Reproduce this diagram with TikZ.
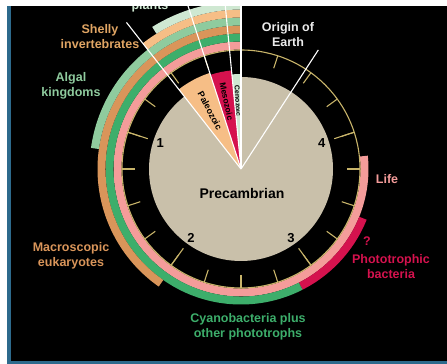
\documentclass[tikz,border=0pt]{standalone}
\usepackage{fontspec}
\setmainfont{Liberation Sans}
\definecolor{bgblue}{HTML}{2D6A8C}
\definecolor{discc}{HTML}{C9C0AA}
\definecolor{lifepink}{HTML}{F49C9A}
\definecolor{cyanog}{HTML}{3DAE6B}
\definecolor{macroc}{HTML}{D9955A}
\definecolor{algalc}{HTML}{8FCB9E}
\definecolor{shellyc}{HTML}{F6BE86}
\definecolor{shellytxt}{HTML}{E0A564}
\definecolor{plantc}{HTML}{CFE8D2}
\definecolor{crim}{HTML}{D5124E}
\definecolor{goldc}{HTML}{C8B46A}
\newcommand\band[5]{\fill[#5] ({90-#3}:#1pt) arc[start angle={90-#3}, end angle={90-#4}, radius=#1pt] -- ({90-#4}:#2pt) arc[start angle={90-#4}, end angle={90-#3}, radius=#2pt] -- cycle;}
\newcommand\wedgefill[4]{\fill[#4] (0,0) -- ({90-#1}:#3pt) arc[start angle={90-#1}, end angle={90-#2}, radius=#3pt] -- cycle;}
\tikzset{
  lbl/.style={font=\fontsize{12.5}{15}\selectfont\bfseries, align=center, inner sep=0pt},
  num/.style={font=\fontsize{13}{15}\selectfont\bfseries, text=black, inner sep=0pt},
  eratxt/.style={font=\fontsize{9}{10}\selectfont\bfseries, text=black, inner sep=0pt},
  wline/.style={draw=white, line width=1.1pt},
  tickc/.style={draw=goldc, line width=1.1pt},
}
\begin{document}
\begin{tikzpicture}[x=1pt,y=1pt]
\useasboundingbox (0,0) rectangle (447,364);
% frame
\fill[white] (0,0) rectangle (447,364);
\fill[black] (11,3) rectangle (447,358);
\fill[bgblue] (7,0) rectangle (11,358);
\fill[bgblue] (7,0) rectangle (447,3);
\coordinate (c) at (241,195);
\begin{scope}[shift={(c)}]
  % bands
  \band{119.5}{127.5}{84}{360}{lifepink}
  \band{127.5}{135.5}{112}{153}{crim}
  \band{127.5}{135.5}{153}{360}{cyanog}
  \band{135.5}{143.5}{215}{360}{macroc}
  \band{143.5}{151.5}{278}{360}{algalc}
  \band{151.5}{159.5}{322}{360}{shellyc}
  \band{159.5}{167.5}{328}{360}{plantc}
  % clock ring
  \draw[goldc, line width=1.1pt] (0,0) circle[radius=119pt];
  \foreach \t in {0,18,...,342} {\draw[tickc] ({90-\t}:106pt) -- ({90-\t}:119pt);}
  \foreach \t in {72,144,216,288} {\draw[tickc] ({90-\t}:98pt) -- ({90-\t}:119pt);}
  % disc
  \fill[discc] (0,0) circle[radius=92pt];
  % eras
  \wedgefill{322}{342}{101}{shellyc}
  \wedgefill{342}{354.5}{99}{crim}
  \wedgefill{354.5}{360}{95}{plantc}
  \node[eratxt, rotate=-62] (paleo) at (118:66pt) {Paleozoic};
  \node[eratxt, rotate=-78, font=\fontsize{8.5}{9}\selectfont\bfseries] (meso) at (102:69pt) {Mesozoic};
  \node[eratxt, rotate=-87, font=\fontsize{7}{8}\selectfont\bfseries] (ceno) at (92.6:68pt) {Cenozoic};
  % numbers
  \node[num] (n4) at (18:85pt) {4};
  \node[num] (n3) at (-54:85pt) {3};
  \node[num] (n2) at (-126:85pt) {2};
  \node[num] (n1) at (162:85pt) {1};
  % radial lines
  \coordinate (e1) at (128:186pt);
  \coordinate (e2) at (108:175pt);
  \coordinate (e3) at (95.5:175pt);
  \coordinate (e4) at (90:175pt);
  \coordinate (e5) at (57:142pt);
\end{scope}
\draw[wline] (c) -- (e1);
\draw[wline] (c) -- (e2);
\draw[wline] (c) -- (e3);
\draw[wline] (c) -- (e4);
\draw[wline] (c) -- (e5);
% labels
\node[font=\fontsize{14}{16}\selectfont\bfseries, text=black, inner sep=0pt] (pre) at (242,171) {Precambrian};
\node[lbl, text=plantc] (plants) at (150,358) {plants};
\node[lbl, text=shellytxt] (shelly) at (100,327) {Shelly\\invertebrates};
\node[lbl, text=algalc] (algal) at (71,278.5) {Algal\\kingdoms};
\node[lbl, text=macroc] (macro) at (71,108.5) {Macroscopic\\eukaryotes};
\node[lbl, text=cyanog] (cyano) at (248,37) {Cyanobacteria plus\\other phototrophs};
\node[lbl, text=crim] (q) at (367,123) {?};
\node[lbl, text=crim] (photo) at (391,97) {Phototrophic\\bacteria};
\node[lbl, text=lifepink] (life) at (387,185) {Life};
\node[lbl, text=white!92!black] (origin) at (288,329) {Origin of\\Earth};
% top strip
\fill[white] (0,358) rectangle (447,364);
\end{tikzpicture}
\end{document}
